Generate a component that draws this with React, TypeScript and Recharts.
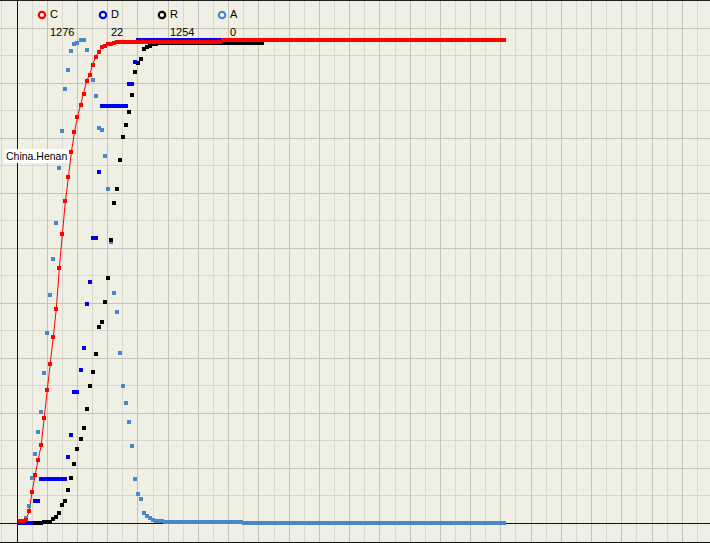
import React from "react";
import { ComposedChart, Line, XAxis, YAxis, ReferenceLine } from "recharts";

const regionName = "China.Henan";
const seriesKeys = ["C", "D", "R", "A"];
const seriesColors = ["#ff0000", "#0000ee", "#000000", "#4a87c9"];

// one value per day, 22 Jan .. 30 Jun
const confirmed = [
  5, 5, 9, 32, 83, 128, 168, 206, 278, 352,
  422, 493, 566, 675, 764, 851, 914, 981, 1033, 1073,
  1105, 1135, 1169, 1184, 1212, 1231, 1246, 1257, 1262, 1265,
  1267, 1270, 1271, 1271, 1271, 1271, 1272, 1272, 1272, 1272,
  1272, 1272, 1272, 1272, 1272, 1272, 1272, 1272, 1272, 1272,
  1272, 1272, 1272, 1272, 1272, 1272, 1272, 1272, 1272, 1272,
  1272, 1272, 1272, 1272, 1272, 1272, 1272, 1276, 1276, 1276,
  1276, 1276, 1276, 1276, 1276, 1276, 1276, 1276, 1276, 1276,
  1276, 1276, 1276, 1276, 1276, 1276, 1276, 1276, 1276, 1276,
  1276, 1276, 1276, 1276, 1276, 1276, 1276, 1276, 1276, 1276,
  1276, 1276, 1276, 1276, 1276, 1276, 1276, 1276, 1276, 1276,
  1276, 1276, 1276, 1276, 1276, 1276, 1276, 1276, 1276, 1276,
  1276, 1276, 1276, 1276, 1276, 1276, 1276, 1276, 1276, 1276,
  1276, 1276, 1276, 1276, 1276, 1276, 1276, 1276, 1276, 1276,
  1276, 1276, 1276, 1276, 1276, 1276, 1276, 1276, 1276, 1276,
  1276, 1276, 1276, 1276, 1276, 1276, 1276, 1276, 1276, 1276,
  1276,
];

const deaths = [
  0, 0, 0, 0, 0, 1, 1, 2, 2, 2,
  2, 2, 2, 2, 2, 2, 3, 4, 6, 6,
  7, 8, 10, 11, 13, 13, 16, 19, 19, 19,
  19, 19, 19, 19, 19, 19, 20, 20, 21, 22,
  22, 22, 22, 22, 22, 22, 22, 22, 22, 22,
  22, 22, 22, 22, 22, 22, 22, 22, 22, 22,
  22, 22, 22, 22, 22, 22, 22, 22, 22, 22,
  22, 22, 22, 22, 22, 22, 22, 22, 22, 22,
  22, 22, 22, 22, 22, 22, 22, 22, 22, 22,
  22, 22, 22, 22, 22, 22, 22, 22, 22, 22,
  22, 22, 22, 22, 22, 22, 22, 22, 22, 22,
  22, 22, 22, 22, 22, 22, 22, 22, 22, 22,
  22, 22, 22, 22, 22, 22, 22, 22, 22, 22,
  22, 22, 22, 22, 22, 22, 22, 22, 22, 22,
  22, 22, 22, 22, 22, 22, 22, 22, 22, 22,
  22, 22, 22, 22, 22, 22, 22, 22, 22, 22,
  22,
];

const recovered = [
  0, 0, 0, 0, 0, 1, 1, 2, 3, 3,
  4, 10, 16, 26, 47, 58, 86, 117, 154, 192,
  218, 247, 297, 356, 392, 439, 510, 522, 574, 637,
  736, 831, 867, 942, 1002, 1033, 1068, 1111, 1171, 1196,
  1206, 1231, 1236, 1240, 1244, 1245, 1246, 1246, 1247, 1248,
  1248, 1248, 1248, 1248, 1248, 1248, 1248, 1248, 1248, 1248,
  1248, 1248, 1248, 1248, 1248, 1248, 1248, 1248, 1248, 1248,
  1248, 1248, 1248, 1248, 1248, 1248, 1248, 1248, 1248, 1248,
  1248, 1254, 1254, 1254, 1254, 1254, 1254, 1254, 1254, 1254,
  1254, 1254, 1254, 1254, 1254, 1254, 1254, 1254, 1254, 1254,
  1254, 1254, 1254, 1254, 1254, 1254, 1254, 1254, 1254, 1254,
  1254, 1254, 1254, 1254, 1254, 1254, 1254, 1254, 1254, 1254,
  1254, 1254, 1254, 1254, 1254, 1254, 1254, 1254, 1254, 1254,
  1254, 1254, 1254, 1254, 1254, 1254, 1254, 1254, 1254, 1254,
  1254, 1254, 1254, 1254, 1254, 1254, 1254, 1254, 1254, 1254,
  1254, 1254, 1254, 1254, 1254, 1254, 1254, 1254, 1254, 1254,
  1254,
];

const active = [
  5, 5, 9, 32, 83, 126, 166, 202, 273, 347,
  416, 481, 548, 647, 715, 791, 825, 860, 873, 875,
  880, 880, 862, 817, 807, 779, 720, 716, 669, 609,
  512, 420, 385, 310, 250, 219, 184, 141, 80, 54,
  44, 19, 14, 10, 6, 4, 4, 4, 2, 2,
  2, 2, 2, 2, 2, 2, 2, 2, 2, 2,
  2, 2, 2, 2, 3, 2, 3, 3, 3, 3,
  3, 3, 3, 3, 1, 1, 1, 1, 1, 1,
  1, 1, 1, 0, 0, 0, 0, 0, 0, 0,
  0, 0, 0, 0, 0, 0, 0, 0, 0, 0,
  0, 0, 0, 0, 0, 0, 0, 0, 0, 0,
  0, 0, 0, 0, 0, 0, 0, 0, 0, 0,
  0, 0, 0, 0, 0, 0, 0, 0, 0, 0,
  0, 0, 0, 0, 0, 0, 0, 0, 0, 0,
  0, 0, 0, 0, 0, 0, 0, 0, 0, 0,
  0, 0, 0, 0, 0, 0, 0, 0, 0, 0,
  0,
];

const seriesValues = [confirmed, deaths, recovered, active];

const rows = confirmed.map((c, i) => ({
  day: i,
  C: c,
  D: deaths[i],
  R: recovered[i],
  A: active[i],
}));

// layout of the old plot: 3.024px per day, axis one day before the first point
const W = 710;
const H = 541;
const PX_PER_DAY = 3.024;
const X_MIN = -1 - 17 / PX_PER_DAY;
const X_MAX = X_MIN + W / PX_PER_DAY;
const ZERO_Y = 522.3; // svg px from top to the zero line
const FULL = 483; // px from zero to each series' own maximum
const GRID_STEP = 27.5;

function yDomain(values: number[]): [number, number] {
  const m = Math.max(...values) || 1;
  return [(-(H - ZERO_Y) / FULL) * m, (ZERO_Y / FULL) * m];
}

const BG = "#efefe3";
const MAJOR = "#c3c3ba";
const MINOR = "#d9d9cf";
const AXIS = "#000088";

const majorDays: number[] = [];
const minorDays: number[] = [];
for (let d = -6; d < X_MAX; d += 5) {
  if ((d + 1) % 10 === 0) majorDays.push(d);
  else minorDays.push(d);
}
const gridRows: number[] = [];
for (let k = 1; k * GRID_STEP < ZERO_Y; k++) gridRows.push(k);

const square = (color: string, name: string) => (p: any) => (
  <rect
    key={`${name}-${p.index}`}
    x={p.cx - 2}
    y={p.cy - 2}
    width={4}
    height={4}
    fill={color}
    shapeRendering="crispEdges"
  />
);

const legendX = [42, 103, 162, 222];

export default function App() {
  const font = '"Liberation Sans", Arial, sans-serif';
  return (
    <div
      style={{
        position: "absolute",
        left: 0,
        top: 0,
        width: W,
        height: 543,
        boxSizing: "border-box",
        borderTop: "1px solid #222",
        borderBottom: "1px solid #111",
        background: BG,
        overflow: "hidden",
        fontFamily: font,
      }}
    >
      <ComposedChart width={W} height={H} data={rows} margin={{ top: 0, right: 0, bottom: 0, left: 0 }}>
        <XAxis dataKey="day" type="number" domain={[X_MIN, X_MAX]} allowDataOverflow hide />
        <YAxis yAxisId="g" type="number" domain={[-(H - ZERO_Y) / GRID_STEP, ZERO_Y / GRID_STEP]} allowDataOverflow hide />
        <YAxis yAxisId="C" type="number" domain={yDomain(confirmed)} hide />
        <YAxis yAxisId="D" type="number" domain={yDomain(deaths)} hide />
        <YAxis yAxisId="R" type="number" domain={yDomain(recovered)} hide />
        <YAxis yAxisId="A" type="number" domain={yDomain(active)} hide />

        {minorDays.map((d) => (
          <ReferenceLine key={`vm${d}`} x={d} yAxisId="g" stroke={MINOR} strokeWidth={1} shapeRendering="crispEdges" />
        ))}
        {gridRows.filter((k) => k % 2 === 1).map((k) => (
          <ReferenceLine key={`hm${k}`} y={k} yAxisId="g" stroke={MINOR} strokeWidth={1} shapeRendering="crispEdges" />
        ))}
        {majorDays.map((d) => (
          <ReferenceLine key={`vM${d}`} x={d} yAxisId="g" stroke={MAJOR} strokeWidth={1} shapeRendering="crispEdges" />
        ))}
        {gridRows.filter((k) => k % 2 === 0).map((k) => (
          <ReferenceLine key={`hM${k}`} y={k} yAxisId="g" stroke={MAJOR} strokeWidth={1} shapeRendering="crispEdges" />
        ))}
        <ReferenceLine x={-1} yAxisId="g" stroke={AXIS} strokeWidth={1} shapeRendering="crispEdges" />
        <ReferenceLine y={0} yAxisId="g" stroke={AXIS} strokeWidth={1} shapeRendering="crispEdges" />

        <Line yAxisId="A" dataKey="A" stroke="none" dot={square(seriesColors[3], "A")} activeDot={false} isAnimationActive={false} />
        <Line yAxisId="R" dataKey="R" stroke="none" dot={square(seriesColors[2], "R")} activeDot={false} isAnimationActive={false} />
        <Line yAxisId="D" dataKey="D" stroke="none" dot={square(seriesColors[1], "D")} activeDot={false} isAnimationActive={false} />
        <Line
          yAxisId="C"
          dataKey="C"
          type="linear"
          stroke={seriesColors[0]}
          strokeWidth={1}
          dot={square(seriesColors[0], "C")}
          activeDot={false}
          isAnimationActive={false}
        />
      </ComposedChart>

      {seriesKeys.map((k, i) => (
        <React.Fragment key={k}>
          <svg style={{ position: "absolute", left: legendX[i] - 5, top: 9, width: 10, height: 10 }}>
            <circle cx={5} cy={5} r={3.2} fill="#fff" stroke={seriesColors[i]} strokeWidth={2.2} />
          </svg>
          <div style={{ position: "absolute", left: legendX[i] + 8, top: 7, fontSize: 11, lineHeight: "13px", color: "#000" }}>
            {k}
          </div>
          <div style={{ position: "absolute", left: legendX[i] + 8, top: 25, fontSize: 11, lineHeight: "13px", color: "#000" }}>
            {seriesValues[i][seriesValues[i].length - 1]}
          </div>
        </React.Fragment>
      ))}

      <div
        style={{
          position: "absolute",
          left: 4,
          top: 148,
          height: 14,
          padding: "0 2px",
          background: "#fff",
          fontSize: 10.5,
          lineHeight: "14px",
          color: "#000",
          whiteSpace: "nowrap",
        }}
      >
        {regionName}
      </div>
    </div>
  );
}
